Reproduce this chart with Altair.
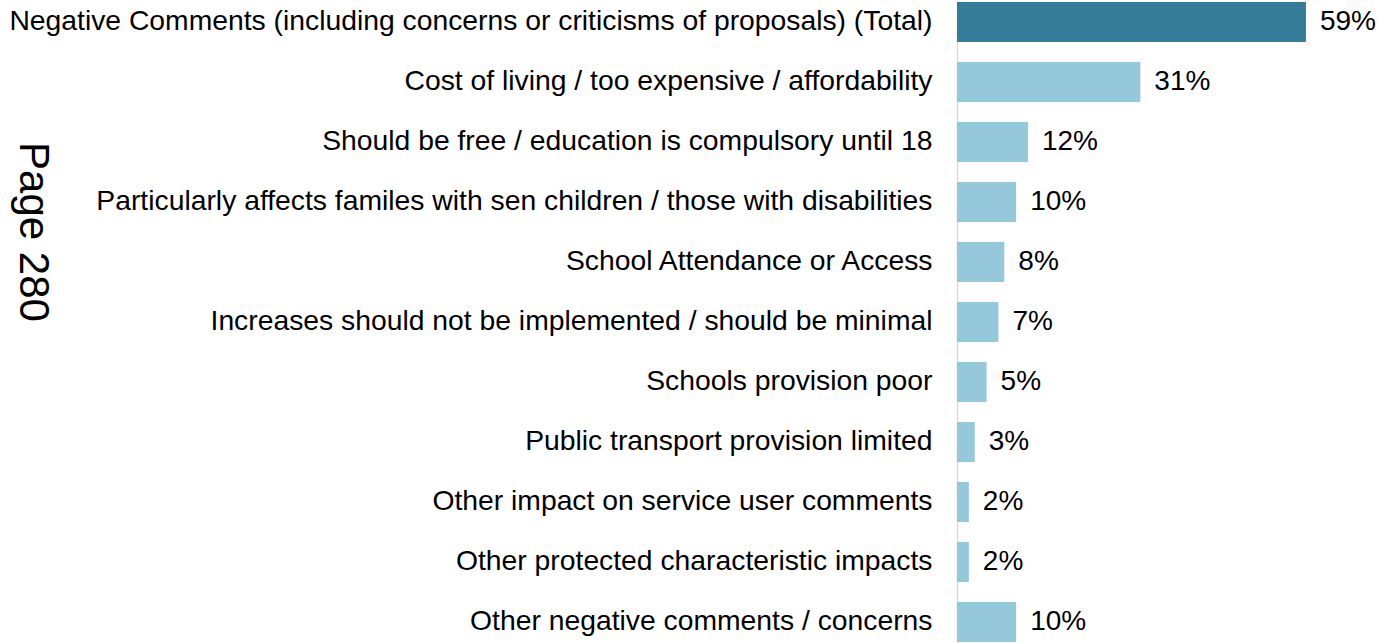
import altair as alt
import pandas as pd

categories = [
    "Negative Comments (including concerns or criticisms of proposals) (Total)",
    "Cost of living / too expensive / affordability",
    "Should be free / education is compulsory until 18",
    "Particularly affects familes with sen children / those with disabilities",
    "School Attendance or Access",
    "Increases should not be implemented / should be minimal",
    "Schools provision poor",
    "Public transport provision limited",
    "Other impact on service user comments",
    "Other protected characteristic impacts",
    "Other negative comments / concerns",
]
values = [59, 31, 12, 10, 8, 7, 5, 3, 2, 2, 10]
colors = ["#357C99"] + ["#95C8DB"] * 10
page_label = ["Page 280"]

df = pd.DataFrame({
    "label": categories,
    "value": values,
    "color": colors,
    "txt": [f"{v}%" for v in values],
})

FONT = "Liberation Sans"

base = alt.Chart(df).encode(
    y=alt.Y(
        "label:N",
        sort=categories,
        scale=alt.Scale(paddingInner=1 / 3, paddingOuter=0),
        axis=alt.Axis(
            title=None,
            labelFontSize=28.3,
            labelFont=FONT,
            labelColor="black",
            labelLimit=1200,
            ticks=False,
            labelPadding=25,
            domainColor="#d9d9d9",
            domainWidth=1.5,
        ),
    )
)

bars = base.mark_bar().encode(
    x=alt.X("value:Q", scale=alt.Scale(domain=[0, 70]), axis=None),
    color=alt.Color("color:N", scale=None),
)

labels = base.mark_text(
    align="left", baseline="middle", dx=14, fontSize=28, font=FONT, color="black"
).encode(x=alt.X("value:Q"), text="txt:N")

page = alt.Chart(pd.DataFrame({"t": page_label})).mark_text(
    angle=90, fontSize=42, font=FONT, color="black", align="center", baseline="middle"
).encode(x=alt.value(-924), y=alt.value(230), text="t:N")

chart = (
    alt.layer(bars, labels, page)
    .properties(
        width=414,
        height=640,
        autosize=alt.AutoSizeParams(type="none"),
        padding={"left": 957, "top": 2, "right": 6, "bottom": 1},
        background="white",
    )
    .configure_view(stroke=None)
)

chart.save("out.html", embed_options={"renderer": "svg", "actions": False})
